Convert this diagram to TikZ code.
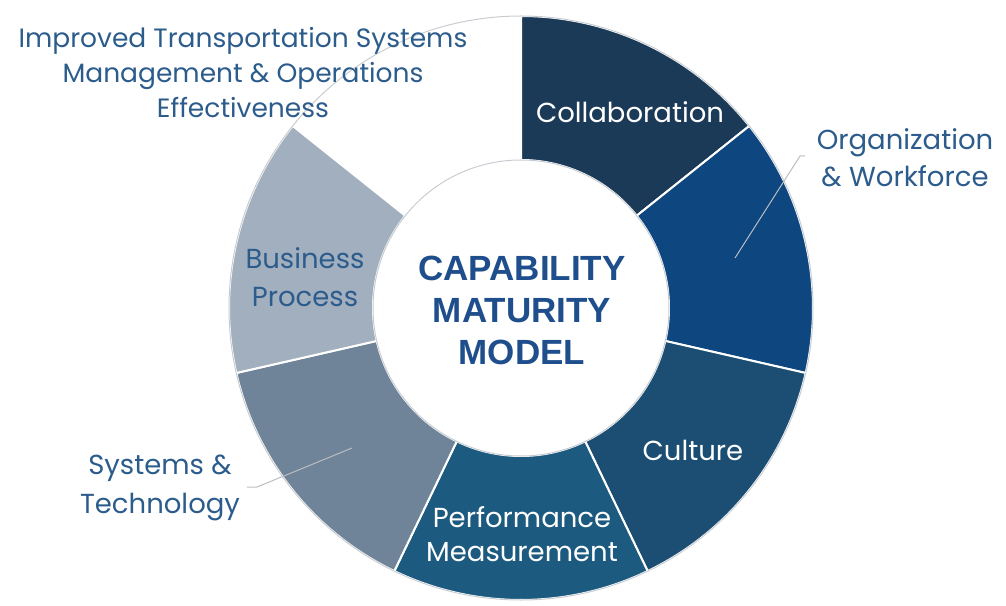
\documentclass[tikz,border=0pt]{standalone}
\usepackage{fontspec}
\setmainfont{Poppins}
\newfontfamily\headfont{Liberation Sans}

\definecolor{collab}{HTML}{1A3A57}
\definecolor{orgwork}{HTML}{0E4680}
\definecolor{culture}{HTML}{1B4E72}
\definecolor{perform}{HTML}{1D5A80}
\definecolor{systech}{HTML}{6F8499}
\definecolor{busproc}{HTML}{A2AFBF}
\definecolor{labelblue}{HTML}{2C5C8C}
\definecolor{headblue}{HTML}{1F4E8C}
\definecolor{rimgray}{HTML}{C9CDD2}

\begin{document}
\begin{tikzpicture}[x=1pt, y=1pt,
    seg/.style={draw=white, line width=2pt},
    lbl/.style={align=center, font=\fontsize{27.5}{36}\selectfont, text=labelblue},
    inlbl/.style={lbl, text=white},
    leader/.style={draw=rimgray!80!gray, line width=1pt}]
    \useasboundingbox (-521, -297) rectangle (485, 308);

    % Ring segments
    \fill[collab, seg] (90:292) arc[start angle=90, end angle=38.57, radius=292]
        -- (38.57:148) arc[start angle=38.57, end angle=90, radius=148] -- cycle;
    \fill[orgwork, seg] (38.57:292) arc[start angle=38.57, end angle=-12.86, radius=292]
        -- (-12.86:148) arc[start angle=-12.86, end angle=38.57, radius=148] -- cycle;
    \fill[culture, seg] (-12.86:292) arc[start angle=-12.86, end angle=-64.29, radius=292]
        -- (-64.29:148) arc[start angle=-64.29, end angle=-12.86, radius=148] -- cycle;
    \fill[perform, seg] (-64.29:292) arc[start angle=-64.29, end angle=-115.71, radius=292]
        -- (-115.71:148) arc[start angle=-115.71, end angle=-64.29, radius=148] -- cycle;
    \fill[systech, seg] (-115.71:292) arc[start angle=-115.71, end angle=-167.14, radius=292]
        -- (-167.14:148) arc[start angle=-167.14, end angle=-115.71, radius=148] -- cycle;
    \fill[busproc, seg] (-167.14:292) arc[start angle=-167.14, end angle=-218.57, radius=292]
        -- (-218.57:148) arc[start angle=-218.57, end angle=-167.14, radius=148] -- cycle;

    % Outline of the ring
    \draw[rimgray, line width=1pt] (0,0) circle (292);
    \draw[rimgray, line width=1pt] (0,0) circle (148);

    % Center title
    \node[align=center, text=headblue, font=\headfont\bfseries\fontsize{35}{42}\selectfont]
        (title) at (1, -2) {CAPABILITY\\MATURITY\\MODEL};

    % Labels inside the ring
    \node[inlbl] (collabLbl) at (109, 196) {Collaboration};
    \node[inlbl] (cultureLbl) at (172, -142) {Culture};
    \node[inlbl, font=\fontsize{27.5}{34}\selectfont] (performLbl) at (1, -226)
        {Performance\\Measurement};
    \node[lbl, font=\fontsize{27.5}{38}\selectfont] (busprocLbl) at (-216, 31)
        {Business\\Process};

    % Labels outside the ring
    \node[lbl, font=\fontsize{26.5}{35}\selectfont] (goalLbl) at (-278, 235)
        {Improved Transportation Systems\\Management \& Operations\\Effectiveness};
    \node[lbl, font=\fontsize{27.5}{37}\selectfont] (orgworkLbl) at (384, 150)
        {Organization\\\& Workforce};
    \node[lbl, font=\fontsize{27.5}{39}\selectfont] (systechLbl) at (-361, -180)
        {Systems \&\\Technology};

    % Leader lines
    \coordinate (orgIn) at (214, 50);
    \coordinate (orgBend) at (279, 152);
    \coordinate (orgEnd) at (284, 152);
    \draw[leader] (orgIn) -- (orgBend) -- (orgEnd);
    \coordinate (sysIn) at (-169, -140);
    \coordinate (sysBend) at (-264, -179);
    \coordinate (sysEnd) at (-274, -179);
    \draw[leader] (sysIn) -- (sysBend) -- (sysEnd);
\end{tikzpicture}
\end{document}
